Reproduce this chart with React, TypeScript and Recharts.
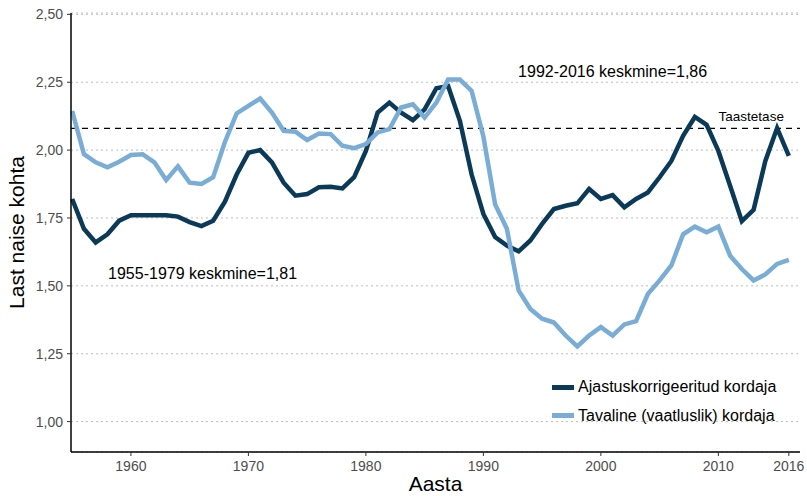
import React from 'react';
import { LineChart, Line, XAxis, YAxis, CartesianGrid, ReferenceLine, ReferenceDot, Legend } from 'recharts';

const years = [
  1955, 1956, 1957, 1958, 1959, 1960, 1961, 1962, 1963, 1964,
  1965, 1966, 1967, 1968, 1969, 1970, 1971, 1972, 1973, 1974,
  1975, 1976, 1977, 1978, 1979, 1980, 1981, 1982, 1983, 1984,
  1985, 1986, 1987, 1988, 1989, 1990, 1991, 1992, 1993, 1994,
  1995, 1996, 1997, 1998, 1999, 2000, 2001, 2002, 2003, 2004,
  2005, 2006, 2007, 2008, 2009, 2010, 2011, 2012, 2013, 2014,
  2015, 2016,
];

// tempo-adjusted TFR
const adjusted = [
  1.82, 1.71, 1.66, 1.69, 1.74, 1.76, 1.76, 1.76, 1.76, 1.755,
  1.735, 1.72, 1.74, 1.81, 1.91, 1.99, 2.0, 1.955, 1.88, 1.832,
  1.838, 1.863, 1.865, 1.859, 1.9, 1.997, 2.138, 2.175, 2.138, 2.11,
  2.15, 2.228, 2.236, 2.108, 1.91, 1.765, 1.68, 1.648, 1.627, 1.667,
  1.728, 1.783, 1.795, 1.804, 1.857, 1.82, 1.834, 1.789, 1.82, 1.844,
  1.9, 1.96, 2.053, 2.122, 2.093, 1.997, 1.869, 1.738, 1.78, 1.96,
  2.081, 1.979,
];

// period (observed) TFR
const period = [
  2.144, 1.985, 1.955, 1.937, 1.957, 1.982, 1.985, 1.955, 1.89, 1.94,
  1.88, 1.875, 1.9, 2.03, 2.135, 2.163, 2.19, 2.138, 2.071, 2.068,
  2.037, 2.061, 2.059, 2.016, 2.007, 2.022, 2.065, 2.077, 2.157, 2.169,
  2.12, 2.175, 2.26, 2.26, 2.218, 2.05, 1.8, 1.71, 1.483, 1.415,
  1.379, 1.365, 1.317, 1.277, 1.317, 1.348, 1.317, 1.358, 1.37, 1.47,
  1.52, 1.575, 1.69, 1.718, 1.697, 1.718, 1.611, 1.562, 1.52, 1.542,
  1.581, 1.596,
];

const xTicks = [1960, 1970, 1980, 1990, 2000, 2010, 2016];
const yTicks = [1, 1.25, 1.5, 1.75, 2, 2.25, 2.5];
const replacementLevel = 2.08;

const annotations = [
  { x: 1966.1, y: 1.545, text: '1955-1979 keskmine=1,81', size: 16 },
  { x: 2001.0, y: 2.292, text: '1992-2016 keskmine=1,86', size: 16 },
  { x: 2012.8, y: 2.126, text: 'Taastetase', size: 13.5 },
];

const data = years.map((year, i) => ({ year, adjusted: adjusted[i], period: period[i] }));

const DARK = '#0a3a58';
const LIGHT = '#79add5';

const fmt = (v: number) => v.toFixed(2).replace('.', ',');

const LegendBox = (props: any) => {
  const { payload } = props;
  return (
    <div>
      {(payload || []).map((p: any) => (
        <div key={p.value} style={{ display: 'flex', alignItems: 'center', height: 28.5 }}>
          <span style={{ display: 'inline-block', width: 22, height: 5, background: p.color, marginRight: 4 }} />
          <span style={{ fontSize: 16, color: '#000' }}>{p.value}</span>
        </div>
      ))}
    </div>
  );
};

export default function App() {
  return (
    <div style={{ width: 807, height: 496 }}>
      <style>{'body{margin:0}'}</style>
      <LineChart
        width={807}
        height={496}
        data={data}
        margin={{ top: 13, right: 7, left: 0, bottom: 0 }}
        style={{ fontFamily: '"Liberation Sans", Arial, sans-serif' }}
      >
        <CartesianGrid horizontal vertical={false} stroke="#bdbdbd" strokeDasharray="2 3" />
        <XAxis
          dataKey="year"
          type="number"
          domain={[1954.9, 2016.95]}
          ticks={xTicks}
          tickSize={4}
          tickMargin={5}
          tick={{ fill: '#4d4d4d', fontSize: 14 }}
          axisLine={{ stroke: '#000', strokeWidth: 1.5 }}
          tickLine={{ stroke: '#333' }}
          height={44}
          label={{ value: 'Aasta', position: 'insideBottom', offset: 5, fontSize: 21, fill: '#000' }}
        />
        <YAxis
          type="number"
          domain={[0.888, 2.505]}
          ticks={yTicks}
          tickFormatter={fmt}
          width={71}
          tickSize={4}
          tickMargin={4}
          tick={{ fill: '#4d4d4d', fontSize: 14 }}
          axisLine={{ stroke: '#000', strokeWidth: 1.5 }}
          tickLine={{ stroke: '#333' }}
          label={{
            value: 'Last naise kohta',
            angle: -90,
            position: 'insideLeft',
            offset: 17,
            fontSize: 21,
            fill: '#000',
            style: { textAnchor: 'middle' },
          }}
        />
        <ReferenceLine y={replacementLevel} stroke="#000" strokeWidth={1.3} strokeDasharray="6 5" />
        {annotations.map((a) => (
          <ReferenceDot
            key={a.text}
            x={a.x}
            y={a.y}
            r={0}
            fill="none"
            stroke="none"
            label={{ value: a.text, position: 'center', fontSize: a.size, fill: '#000' }}
          />
        ))}
        <Line
          name="Ajastuskorrigeeritud kordaja"
          dataKey="adjusted"
          stroke={DARK}
          strokeWidth={4.5}
          dot={false}
          type="linear"
          isAnimationActive={false}
        />
        <Line
          name="Tavaline (vaatluslik) kordaja"
          dataKey="period"
          stroke={LIGHT}
          strokeWidth={4.5}
          dot={false}
          type="linear"
          isAnimationActive={false}
        />
        <Legend
          layout="vertical"
          align="center"
          verticalAlign="middle"
          wrapperStyle={{ left: 552, top: 373, width: 250 }}
          content={<LegendBox />}
        />
      </LineChart>
    </div>
  );
}
